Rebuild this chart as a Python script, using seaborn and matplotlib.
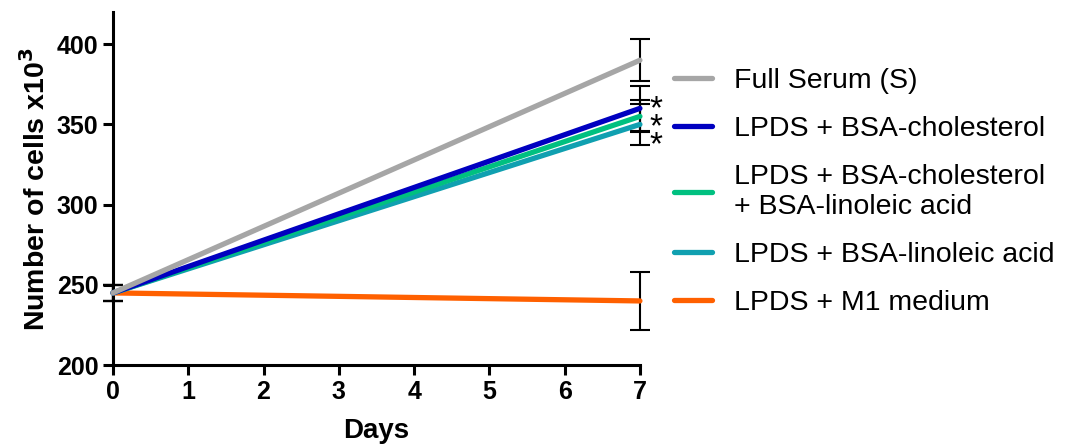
import pandas as pd
import matplotlib.pyplot as plt
import seaborn as sns

# --- DATA ---
days = [0, 7]
groups = [
    'Full Serum (S)',
    'LPDS + BSA-cholesterol',
    'LPDS + BSA-cholesterol\n+ BSA-linoleic acid',
    'LPDS + BSA-linoleic acid',
    'LPDS + M1 medium',
]
cells = {
    groups[0]: [245, 390],
    groups[1]: [245, 360],
    groups[2]: [245, 355],
    groups[3]: [245, 350],
    groups[4]: [245, 240],
}
errors = {
    groups[0]: [5, 13],
    groups[1]: [5, 14],
    groups[2]: [5, 10],
    groups[3]: [5, 13],
    groups[4]: [5, 18],
}
colors = ['#A6A6A6', '#0000C0', '#00C080', '#10A0B0', '#FF6000']
y_ticks = [200, 250, 300, 350, 400]
x_ticks = list(range(0, 8))

sns.set_style('ticks')
plt.rcParams['font.family'] = ['Liberation Sans', 'DejaVu Sans']
for key in ['text.color', 'axes.labelcolor', 'xtick.color', 'ytick.color', 'axes.edgecolor']:
    plt.rcParams[key] = 'black'

rows = []
for g in groups:
    for d, v in zip(days, cells[g]):
        rows.append({'Days': d, 'Cells': v, 'Group': g})
df = pd.DataFrame(rows)

fig = plt.figure(figsize=(10.71, 4.48), dpi=100)
ax = fig.add_axes([0.1055, 0.185, 0.492, 0.788])

# error bars first (behind lines)
for g in groups:
    ax.errorbar(days, cells[g], yerr=errors[g], fmt='none', ecolor='black',
                elinewidth=1.5, capsize=7, capthick=1.5, zorder=1, clip_on=False)

# draw order: orange bottom, then teal, green, blue, grey on top
order = [4, 3, 2, 1, 0]
for i in order:
    sub = df[df['Group'] == groups[i]]
    sns.lineplot(data=sub, x='Days', y='Cells', color=colors[i], linewidth=3.8,
                 ax=ax, label=groups[i], zorder=3 + (4 - i), clip_on=False)

ax.set_xlim(0, 7)
ax.set_ylim(200, 420)
ax.set_xticks(x_ticks)
ax.set_yticks(y_ticks)
sns.despine(ax=ax)
for side in ['left', 'bottom']:
    ax.spines[side].set_linewidth(2.2)
ax.tick_params(width=2.2, length=7, labelsize=18)
for lab in ax.get_xticklabels() + ax.get_yticklabels():
    lab.set_fontweight('bold')

ax.set_xlabel('Days', fontsize=20, fontweight='bold', labelpad=10)
ax.set_ylabel(r'Number of cells x10$^{\mathbf{3}}$', fontsize=20.5, fontweight='bold', labelpad=4)

# significance stars
ax.text(7.22, 348, '*\n*\n*', fontsize=24, ha='center', va='center',
        linespacing=0.45, clip_on=False)

handles, labels = ax.get_legend_handles_labels()
hmap = dict(zip(labels, handles))
ax.legend([hmap[g] for g in groups], groups, loc='upper left',
          bbox_to_anchor=(1.044, 0.875), frameon=False, fontsize=20.5,
          handlelength=1.3, handletextpad=0.8, labelspacing=0.78,
          borderaxespad=0)

plt.savefig('out.png', dpi=100)
